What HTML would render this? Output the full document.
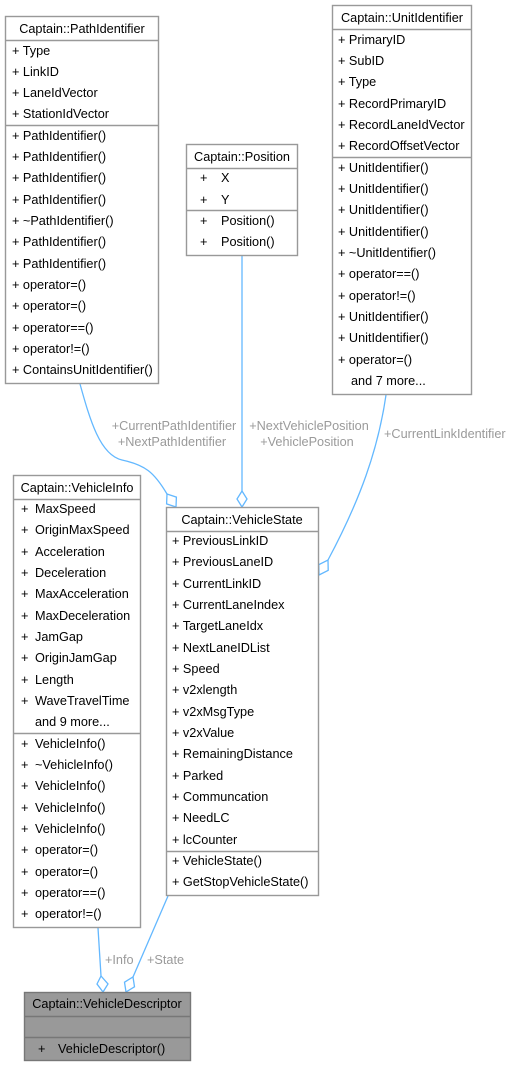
<!DOCTYPE html>
<html><head><meta charset="utf-8"><style>
html,body{margin:0;padding:0;background:#fff;}
svg{display:block;}
text{font-family:"Liberation Sans",Arial,sans-serif;font-size:12.7px;fill:#000;}
.l{fill:#9a9a9a;}
</style></head><body>
<svg width="511" height="1067" viewBox="0 0 511 1067" xmlns="http://www.w3.org/2000/svg">
<g fill="none" stroke="#63b8ff" stroke-width="1.3">
<path d="M80,384 C90,420 100,455 122,460 C145,465 154,472 167,494"/>
<polygon points="176,507 176.4,497.1 167,494 166.6,503.9" fill="#fff"/>
<path d="M242,256 L242,491"/>
<polygon points="242,507 247,499 242,491 237,499" fill="#fff"/>
<path d="M386,395 C378,450 360,500 328,560"/>
<polygon points="319,575 328.2,570.3 328,560 318.8,564.7" fill="#fff"/>
<path d="M98,928 L101,976"/>
<polygon points="103,992 108,984 101,976 97,984" fill="#fff"/>
<path d="M168,896 L133,977"/>
<polygon points="126,992 134.5,986.8 133,977 124.5,982.2" fill="#fff"/>
</g>
<text class="l" x="174" y="430" text-anchor="middle">+CurrentPathIdentifier</text>
<text class="l" x="172" y="446" text-anchor="middle">+NextPathIdentifier</text>
<text class="l" x="309" y="430" text-anchor="middle">+NextVehiclePosition</text>
<text class="l" x="307" y="446" text-anchor="middle">+VehiclePosition</text>
<text class="l" x="384" y="438">+CurrentLinkIdentifier</text>
<text class="l" x="105" y="964">+Info</text>
<text class="l" x="147" y="964">+State</text>

<g stroke="#999" stroke-width="1.4" fill="#fff">
<rect x="5.5" y="16.5" width="153" height="367"/>
<line x1="5.5" y1="40.5" x2="158.5" y2="40.5"/><line x1="5.5" y1="125.5" x2="158.5" y2="125.5"/>
<rect x="186.5" y="144.5" width="111" height="111"/>
<line x1="186.5" y1="168.5" x2="297.5" y2="168.5"/><line x1="186.5" y1="210.5" x2="297.5" y2="210.5"/>
<rect x="332.5" y="5.5" width="139" height="389"/>
<line x1="332.5" y1="29.5" x2="471.5" y2="29.5"/><line x1="332.5" y1="157.5" x2="471.5" y2="157.5"/>
<rect x="13.5" y="475.5" width="127" height="452"/>
<line x1="13.5" y1="499.5" x2="140.5" y2="499.5"/><line x1="13.5" y1="733.5" x2="140.5" y2="733.5"/>
<rect x="166.5" y="507.5" width="152" height="388"/>
<line x1="166.5" y1="531.5" x2="318.5" y2="531.5"/><line x1="166.5" y1="851.5" x2="318.5" y2="851.5"/>
<rect x="24.5" y="992.5" width="166" height="68" fill="#999" stroke="#777"/>
<line x1="24.5" y1="1016.5" x2="190.5" y2="1016.5" stroke="#777"/><line x1="24.5" y1="1037.5" x2="190.5" y2="1037.5" stroke="#777"/>
</g>

<text x="82" y="33" text-anchor="middle">Captain::PathIdentifier</text>
<g>
<text x="12" y="55">+ Type</text>
<text x="12" y="76">+ LinkID</text>
<text x="12" y="97">+ LaneIdVector</text>
<text x="12" y="118">+ StationIdVector</text>
<text x="12" y="140">+ PathIdentifier()</text>
<text x="12" y="161">+ PathIdentifier()</text>
<text x="12" y="182">+ PathIdentifier()</text>
<text x="12" y="204">+ PathIdentifier()</text>
<text x="12" y="225">+ ~PathIdentifier()</text>
<text x="12" y="246">+ PathIdentifier()</text>
<text x="12" y="268">+ PathIdentifier()</text>
<text x="12" y="289">+ operator=()</text>
<text x="12" y="310">+ operator=()</text>
<text x="12" y="332">+ operator==()</text>
<text x="12" y="353">+ operator!=()</text>
<text x="12" y="374">+ ContainsUnitIdentifier()</text>
</g>
<text x="242" y="161" text-anchor="middle">Captain::Position</text>
<text x="200" y="182">+</text><text x="221" y="182">X</text>
<text x="200" y="204">+</text><text x="221" y="204">Y</text>
<text x="200" y="225">+</text><text x="221" y="225">Position()</text>
<text x="200" y="246">+</text><text x="221" y="246">Position()</text>
<text x="402" y="22" text-anchor="middle">Captain::UnitIdentifier</text>
<text x="338" y="44">+ PrimaryID</text>
<text x="338" y="65">+ SubID</text>
<text x="338" y="86">+ Type</text>
<text x="338" y="108">+ RecordPrimaryID</text>
<text x="338" y="129">+ RecordLaneIdVector</text>
<text x="338" y="150">+ RecordOffsetVector</text>
<text x="338" y="172">+ UnitIdentifier()</text>
<text x="338" y="193">+ UnitIdentifier()</text>
<text x="338" y="214">+ UnitIdentifier()</text>
<text x="338" y="236">+ UnitIdentifier()</text>
<text x="338" y="257">+ ~UnitIdentifier()</text>
<text x="338" y="278">+ operator==()</text>
<text x="338" y="300">+ operator!=()</text>
<text x="338" y="321">+ UnitIdentifier()</text>
<text x="338" y="342">+ UnitIdentifier()</text>
<text x="338" y="364">+ operator=()</text>
<text x="351" y="385">and 7 more...</text>
<text x="77" y="492" text-anchor="middle">Captain::VehicleInfo</text>
<text x="21" y="513">+</text><text x="35" y="513">MaxSpeed</text>
<text x="21" y="534">+</text><text x="35" y="534">OriginMaxSpeed</text>
<text x="21" y="556">+</text><text x="35" y="556">Acceleration</text>
<text x="21" y="577">+</text><text x="35" y="577">Deceleration</text>
<text x="21" y="598">+</text><text x="35" y="598">MaxAcceleration</text>
<text x="21" y="620">+</text><text x="35" y="620">MaxDeceleration</text>
<text x="21" y="641">+</text><text x="35" y="641">JamGap</text>
<text x="21" y="662">+</text><text x="35" y="662">OriginJamGap</text>
<text x="21" y="684">+</text><text x="35" y="684">Length</text>
<text x="21" y="705">+</text><text x="35" y="705">WaveTravelTime</text>
<text x="35" y="726">and 9 more...</text>
<text x="21" y="748">+</text><text x="35" y="748">VehicleInfo()</text>
<text x="21" y="769">+</text><text x="35" y="769">~VehicleInfo()</text>
<text x="21" y="790">+</text><text x="35" y="790">VehicleInfo()</text>
<text x="21" y="812">+</text><text x="35" y="812">VehicleInfo()</text>
<text x="21" y="833">+</text><text x="35" y="833">VehicleInfo()</text>
<text x="21" y="854">+</text><text x="35" y="854">operator=()</text>
<text x="21" y="876">+</text><text x="35" y="876">operator=()</text>
<text x="21" y="897">+</text><text x="35" y="897">operator==()</text>
<text x="21" y="918">+</text><text x="35" y="918">operator!=()</text>
<text x="242" y="524" text-anchor="middle">Captain::VehicleState</text>
<text x="172" y="545">+ PreviousLinkID</text>
<text x="172" y="566">+ PreviousLaneID</text>
<text x="172" y="588">+ CurrentLinkID</text>
<text x="172" y="609">+ CurrentLaneIndex</text>
<text x="172" y="630">+ TargetLaneIdx</text>
<text x="172" y="652">+ NextLaneIDList</text>
<text x="172" y="673">+ Speed</text>
<text x="172" y="694">+ v2xlength</text>
<text x="172" y="716">+ v2xMsgType</text>
<text x="172" y="737">+ v2xValue</text>
<text x="172" y="758">+ RemainingDistance</text>
<text x="172" y="780">+ Parked</text>
<text x="172" y="801">+ Communcation</text>
<text x="172" y="822">+ NeedLC</text>
<text x="172" y="844">+ lcCounter</text>
<text x="172" y="865">+ VehicleState()</text>
<text x="172" y="886">+ GetStopVehicleState()</text>
<text x="107" y="1008" text-anchor="middle">Captain::VehicleDescriptor</text>
<text x="38" y="1053">+</text><text x="58" y="1053">VehicleDescriptor()</text>
</svg>
</body></html>
